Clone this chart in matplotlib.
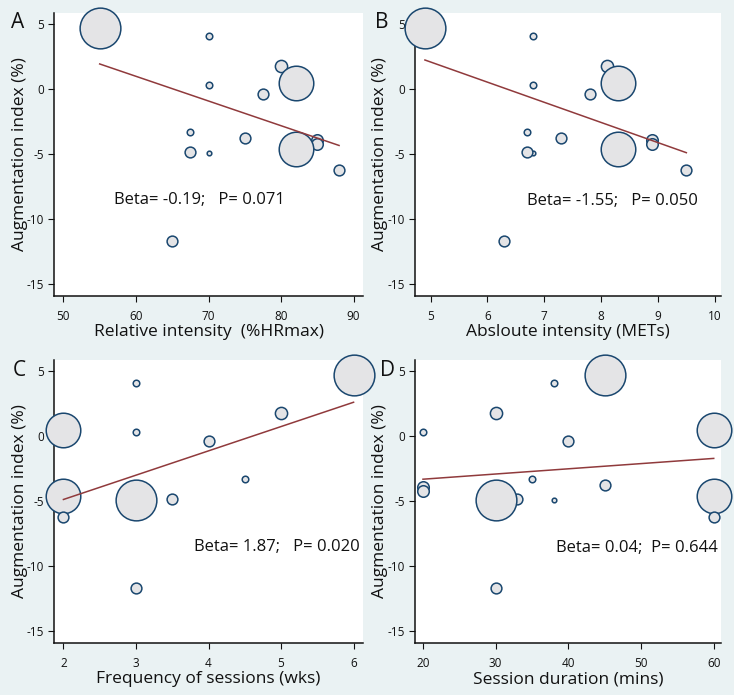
import numpy as np
import matplotlib
matplotlib.use("Agg")
import matplotlib.pyplot as plt

plt.rcParams['font.family'] = ['Open Sans', 'DejaVu Sans']

# Study-level data (augmentation index change, %), drawing order as in original
aix = [4.7, 4.1, 1.8, 0.5, 0.3, -0.35, -3.3, -3.75, -3.9, -4.2, -4.9, -4.85, -4.9, -4.6, -6.2, -11.7]
rel_intensity = [55, 70, 80, 82, 70, 77.5, 67.5, 75, 85, 85, 70, 67.5, np.nan, 82, 88, 65]
abs_intensity = [4.9, 6.8, 8.1, 8.3, 6.8, 7.8, 6.7, 7.3, 8.9, 8.9, 6.8, 6.7, np.nan, 8.3, 9.5, 6.3]
frequency = [6, 3, 5, 2, 3, 4, 4.5, 2, 2, 2, 3, 3.5, 3, 2, 2, 3]
duration = [45, 38, 30, 60, 20, 40, 35, 45, 20, 20, 38, 33, 30, 60, 60, 30]
weights = [100, 2.6, 9, 72, 2.6, 7, 2.6, 7, 8, 8, 1.3, 7, 100, 72, 7, 7]

betas = [-0.19, -1.55, 1.87, 0.04]
intercepts = [12.4, 9.85, -8.6, -4.1]
labels = ["Beta= -0.19;   P= 0.071", "Beta= -1.55;   P= 0.050",
          "Beta= 1.87;   P= 0.020", "Beta= 0.04;  P= 0.644"]
xlabels = ["Relative intensity  (%HRmax)", "Absloute intensity (METs)",
           "Frequency of sessions (wks)", "Session duration (mins)"]
letters = ["A", "B", "C", "D"]
xticks = [[50, 60, 70, 80, 90], [5, 6, 7, 8, 9, 10], [2, 3, 4, 5, 6], [20, 30, 40, 50, 60]]
xlims = [(48.7, 91.3), (4.72, 10.11), (1.87, 6.13), (18.86, 61.0)]
yticks = [5, 0, -5, -10, -15]
text_pos = [(57.0, -8.5), (6.7, -8.6), (3.8, -8.5), (38.3, -8.6)]

xs_all = [rel_intensity, abs_intensity, frequency, duration]

W, H = 734, 695
fig = plt.figure(figsize=(W / 100, H / 100), dpi=100, facecolor='#eaf2f3')

boxes = [(54, 13, 363, 296), (414.7, 13, 721, 296),
         (54, 360, 363, 643), (414.7, 360, 721, 643)]
letter_pos = [(18, 23), (382, 23), (19, 370), (388, 371)]
ylabel_x = [28, 388, 28, 388]

fill = '#e4e4e6'
edge = '#1a476f'
linec = '#903a3c'
k = 8.6

for i in range(4):
    l, t, r, b = boxes[i]
    ax = fig.add_axes([l / W, 1 - b / H, (r - l) / W, (b - t) / H])
    ax.set_facecolor('white')
    x = np.array(xs_all[i], dtype=float)
    y = np.array(aix, dtype=float)
    w = np.array(weights, dtype=float)
    m = ~np.isnan(x)
    for xi, yi, wi in zip(x[m], y[m], w[m]):
        ax.scatter([xi], [yi], s=wi * k, facecolor=fill, edgecolor=edge,
                   linewidth=1.1, clip_on=False, zorder=3)
    xmin, xmax = np.nanmin(x), np.nanmax(x)
    xl = np.array([xmin, xmax])
    ax.plot(xl, intercepts[i] + betas[i] * xl, color=linec, lw=1.1, zorder=4)
    ax.text(text_pos[i][0], text_pos[i][1], labels[i], fontsize=12, va='center',
            ha='left', color='#111111', zorder=5)
    ax.set_xlim(*xlims[i])
    ax.set_ylim(-15.9, 5.87)
    ax.set_xticks(xticks[i])
    ax.set_yticks(yticks)
    ax.set_yticklabels([str(v) for v in yticks])
    for s in ['top', 'right']:
        ax.spines[s].set_visible(False)
    for s in ['left', 'bottom']:
        ax.spines[s].set_color('#111111')
        ax.spines[s].set_linewidth(1.1)
    ax.tick_params(direction='out', length=4, width=0.8, colors='#111111',
                   labelsize=8.5, pad=3)
    ax.tick_params(axis='x', pad=6)
    ax.set_xlabel(xlabels[i], fontsize=12.5, labelpad=1, color='#111111')
    ax.set_ylabel("Augmentation index (%)", fontsize=12.5, color='#111111')
    ax.yaxis.set_label_coords((ylabel_x[i] - l) / (r - l), 0.5)
    fig.text(letter_pos[i][0] / W, 1 - letter_pos[i][1] / H, letters[i],
             fontsize=15, ha='center', va='center', color='#111111')

fig.savefig('out.png', dpi=100, facecolor=fig.get_facecolor())
